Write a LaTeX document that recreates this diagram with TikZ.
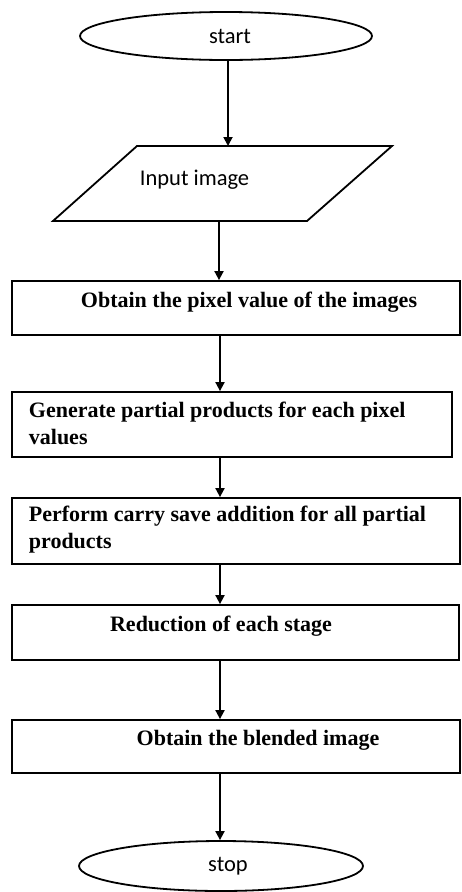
\documentclass[tikz,border=0pt]{standalone}
\usepackage{fontspec}
\setmainfont{Liberation Serif}
\newfontfamily\calib{Carlito}
\usetikzlibrary{shapes.geometric,arrows.meta}
\begin{document}
\begin{tikzpicture}[x=1pt,y=-1pt, line width=1.8pt,
  term/.style={draw, ellipse, inner sep=0pt},
  proc/.style={draw, rectangle, inner sep=0pt},
  lbl/.style={font=\fontsize{22}{27}\selectfont\bfseries, inner sep=0pt},
  slbl/.style={font=\calib\fontsize{22.5}{27}\selectfont, inner sep=0pt},
  arr/.style={-{Triangle[length=9pt,width=9pt]}}]
\useasboundingbox (0,0) rectangle (461,892);
\fill[white] (0,0) rectangle (461,892);

% shapes
\node[term, minimum width=292pt, minimum height=48pt] (start) at (226,36) {};
\node[slbl] (starttxt) at (230,36) {start};

\coordinate (p1) at (137,146);
\coordinate (p2) at (392,146);
\coordinate (p3) at (307,221);
\coordinate (p4) at (53,221);
\draw (p1) -- (p2) -- (p3) -- (p4) -- cycle;
\coordinate (inT) at (228,146);
\coordinate (inB) at (219,221);
\node[slbl, anchor=west] (intxt) at (139,180) {Input image};

\node[proc, minimum width=448pt, minimum height=54pt] (b1) at (236,308) {};
\node[lbl] (t1) at (249,302) {Obtain the pixel value of the images};

\node[proc, minimum width=440pt, minimum height=65pt] (b2) at (232,424.5) {};
\node[lbl, anchor=west, align=left] (t2) at (28,423) {Generate partial products for each pixel\\values};

\node[proc, minimum width=448pt, minimum height=66pt] (b3) at (236,531) {};
\node[lbl, anchor=west, align=left] (t3) at (28,530) {Perform carry save addition for all partial\\products};

\node[proc, minimum width=447pt, minimum height=55pt] (b4) at (235.5,632.5) {};
\node[lbl] (t4) at (221,626) {Reduction of each stage};

\node[proc, minimum width=448pt, minimum height=53pt] (b5) at (236,746.5) {};
\node[lbl] (t5) at (258,740) {Obtain the blended image};

\node[term, minimum width=284pt, minimum height=50pt] (stop) at (221,866) {};
\node[slbl] (stoptxt) at (228,866) {stop};

% connectors
\coordinate (ax) at (220,0);
\draw[arr] (start.south -| inT) -- (inT);
\draw[arr] (inB) -- (b1.north -| inB);
\draw[arr] (b1.south -| ax) -- (b2.north -| ax);
\draw[arr] (b2.south -| ax) -- (b3.north -| ax);
\draw[arr] (b3.south -| ax) -- (b4.north -| ax);
\draw[arr] (b4.south -| ax) -- (b5.north -| ax);
\draw[arr] (b5.south -| ax) -- (stop.north -| ax);
\end{tikzpicture}
\end{document}
